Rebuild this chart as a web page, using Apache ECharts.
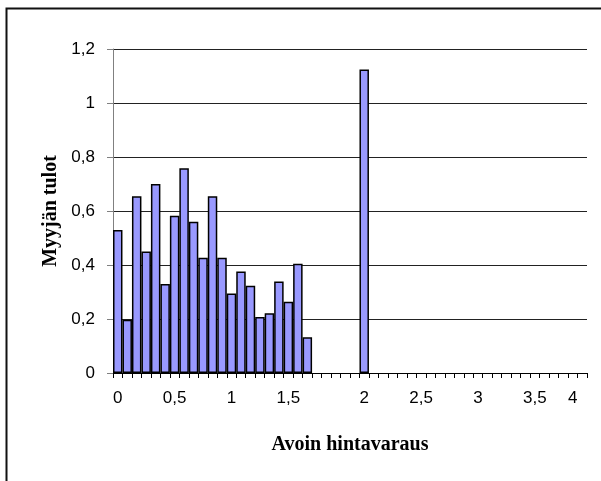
<!DOCTYPE html>
<html>
<head>
<meta charset="utf-8">
<script src="https://cdn.jsdelivr.net/npm/echarts@6/dist/echarts.min.js"></script>
<style>
    html, body { margin: 0; padding: 0; background: #fff; }
    #main_chart { width: 601px; height: 481px; }
</style>
</head>
<body>
<div id="main_chart"></div>
<script>
// category labels, one per bar slot (most are left blank like in the original)
var xLabels = [
    '0', '', '', '', '', '', '0,5', '', '', '', '', '', '1', '', '', '', '', '', '1,5', '', '',
    '', '', '', '', '', '2', '', '', '', '', '', '2,5', '', '', '', '', '', '3', '', '', '', '', '', '3,5', '', '', '', '4', ''
];

// seller income per slot
var sellerIncome = [
    0.53, 0.197, 0.655, 0.45, 0.70, 0.33, 0.582, 0.758, 0.56, 0.427, 0.655, 0.427, 0.294, 0.376, 0.323,
    0.207, 0.221, 0.339, 0.264, 0.405, 0.132,
    null, null, null, null, null, 1.124, null, null, null, null, null, null, null, null, null,
    null, null, null, null, null, null, null, null, null, null, null, null, null, null
];

var mainChart = echarts.init(document.getElementById('main_chart'));

var mainChartOptions = {
    animation: false,
    backgroundColor: '#ffffff',
    grid: {
        left: 113,
        right: 14,
        top: 49,
        bottom: 108
    },
    graphic: [{
        type: 'rect',
        shape: { x: 6.5, y: 8.5, width: 700, height: 600 },
        style: { fill: 'none', stroke: '#111', lineWidth: 2 }
    }],
    xAxis: {
        type: 'category',
        data: xLabels,
        name: 'Avoin hintavaraus',
        nameLocation: 'middle',
        nameGap: 62,
        nameTextStyle: {
            fontFamily: 'Liberation Serif',
            fontWeight: 'bold',
            fontSize: 20,
            color: '#000'
        },
        axisLine: { lineStyle: { color: '#000', width: 1 } },
        axisTick: {
            show: true,
            interval: 0,
            length: 5,
            lineStyle: { color: '#000', width: 1 }
        },
        axisLabel: {
            interval: 0,
            margin: 17,
            fontFamily: 'Liberation Sans',
            fontSize: 17,
            color: '#000'
        },
        splitLine: { show: false }
    },
    yAxis: {
        type: 'value',
        min: 0,
        max: 1.2,
        interval: 0.2,
        name: 'Myyjän tulot',
        nameLocation: 'middle',
        nameGap: 52,
        nameTextStyle: {
            fontFamily: 'Liberation Serif',
            fontWeight: 'bold',
            fontSize: 20,
            color: '#000'
        },
        axisLine: { show: true, lineStyle: { color: '#808080', width: 1 } },
        axisTick: { show: true, length: 6, lineStyle: { color: '#808080' } },
        axisLabel: {
            margin: 18,
            fontFamily: 'Liberation Sans',
            fontSize: 17,
            color: '#000',
            formatter: function (value) {
                return String(Math.round(value * 10) / 10).replace('.', ',');
            }
        },
        splitLine: { show: true, lineStyle: { color: '#222', width: 1 } }
    },
    series: [{
        name: 'Myyjän tulot',
        type: 'bar',
        data: sellerIncome,
        barCategoryGap: '0%',
        itemStyle: {
            color: '#9999ff',
            borderColor: '#000',
            borderWidth: 1.5
        }
    }]
};
mainChart.setOption(mainChartOptions);
</script>
</body>
</html>
